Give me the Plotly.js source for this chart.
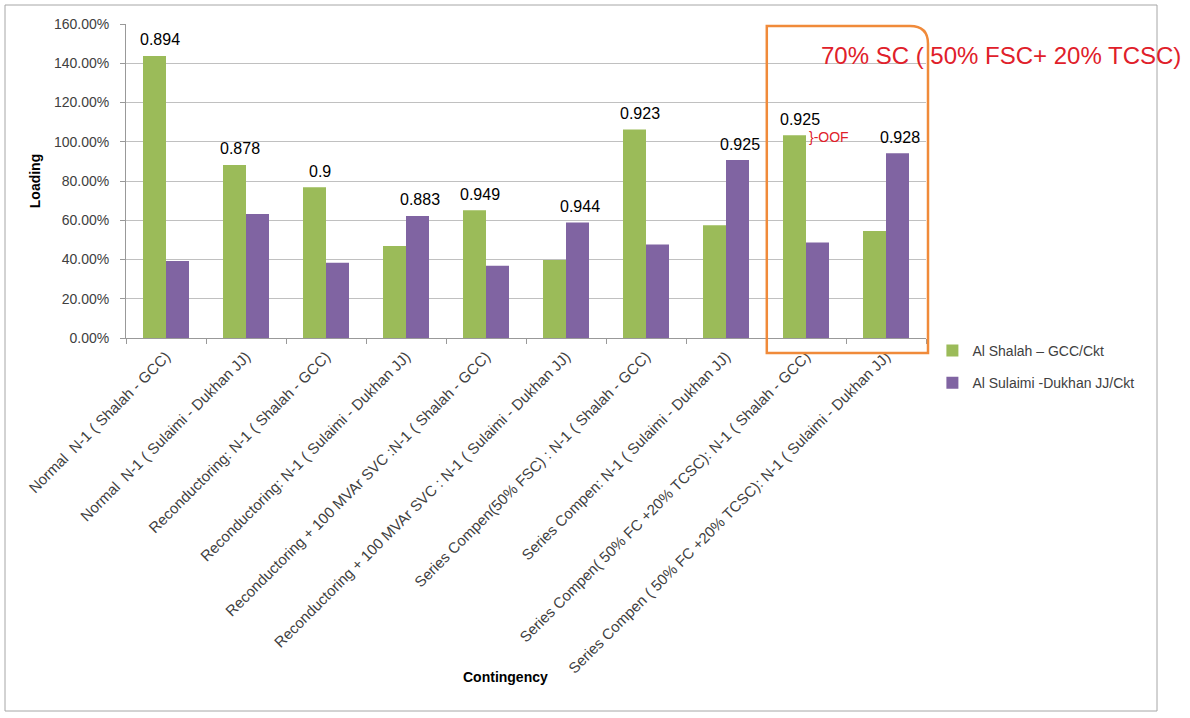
<!DOCTYPE html>
<html>
<head>
<meta charset="utf-8">
<script src="https://cdn.plot.ly/plotly-3.0.1.min.js"></script>
<style>
  html, body { margin: 0; padding: 0; background: #ffffff; }
  #chart { width: 1190px; height: 718px; }
</style>
</head>
<body>
<div id="chart"></div>
<script>
// ---- data ----
const categories = [
  "Normal\u00a0 N-1 ( Shalah - GCC)",
  "Normal\u00a0 N-1 ( Sulaimi - Dukhan JJ)",
  "Reconductoring: N-1 ( Shalah - GCC)",
  "Reconductoring: N-1 ( Sulaimi - Dukhan JJ)",
  "Reconductoring + 100 MVAr SVC :N-1 ( Shalah - GCC)",
  "Reconductoring + 100 MVAr SVC : N-1 ( Sulaimi - Dukhan JJ)",
  "Series Compen(50% FSC) : N-1 ( Shalah - GCC)",
  "Series Compen: N-1 ( Sulaimi - Dukhan JJ)",
  "Series Compen( 50% FC +20% TCSC): N-1 ( Shalah - GCC)",
  "Series Compen ( 50% FC +20% TCSC): N-1 ( Sulaimi - Dukhan JJ)"
];
const shalahGCC     = [1.437, 0.882, 0.768, 0.469, 0.651, 0.397, 1.063, 0.574, 1.033, 0.545];
const sulaimiDukhan = [0.392, 0.632, 0.384, 0.622, 0.368, 0.588, 0.477, 0.907, 0.486, 0.941];
const valueLabels   = ["0.894", "0.878", "0.9", "0.883", "0.949", "0.944", "0.923", "0.925", "0.925", "0.928"];
const seriesNames   = ["Al Shalah \u2013 GCC/Ckt", "Al Sulaimi -Dukhan JJ/Ckt"];
const yTickVals     = [0, 0.2, 0.4, 0.6, 0.8, 1.0, 1.2, 1.4, 1.6];

// ---- styles ----
const FONT = "Liberation Sans, Arial, sans-serif";
const GREEN = "#9BBB59";
const PURPLE = "#8064A2";
const TXT = "#404040";

const traces = [
  { type: "bar", name: seriesNames[0], x: categories, y: shalahGCC,
    marker: { color: GREEN }, legendgroup: "g1", hoverinfo: "skip" },
  { type: "bar", name: seriesNames[1], x: categories, y: sulaimiDukhan,
    marker: { color: PURPLE }, legendgroup: "g2", hoverinfo: "skip" }
];

const annotations = categories.map((c, i) => {
  const greenTaller = shalahGCC[i] >= sulaimiDukhan[i];
  return {
    x: c, y: Math.max(shalahGCC[i], sulaimiDukhan[i]),
    xref: "x", yref: "y",
    text: valueLabels[i], showarrow: false,
    xanchor: "center", yanchor: "middle",
    xshift: greenTaller ? -6 : 14, yshift: 16,
    font: { family: FONT, size: 16, color: "#000000" }
  };
});

annotations.push({
  x: categories[8], y: shalahGCC[8], xref: "x", yref: "y",
  text: "}-OOF", showarrow: false, xanchor: "left", yanchor: "middle",
  xshift: 1, yshift: -2,
  font: { family: FONT, size: 14, color: "#E0202A" }
});
annotations.push({
  x: 1.094, y: 0.901, xref: "paper", yref: "paper",
  text: "70% SC ( 50% FSC+ 20% TCSC)", showarrow: false,
  xanchor: "center", yanchor: "middle",
  font: { family: FONT, size: 24, color: "#E0202A" }
});
annotations.push({
  x: 0.474, y: -1.08, xref: "paper", yref: "paper",
  text: "<b>Contingency</b>", showarrow: false,
  xanchor: "center", yanchor: "middle",
  font: { family: FONT, size: 14, color: "#000000" }
});

const shapes = [
  // outer chart border
  { type: "rect", xref: "paper", yref: "paper",
    x0: -0.15125, x1: 1.28875, y0: -1.1879, y1: 1.0605,
    line: { color: "#a6a6a6", width: 1 }, fillcolor: "rgba(0,0,0,0)", layer: "below" },
  // orange highlight box with rounded top-right corner
  { type: "path", xref: "paper", yref: "paper",
    path: "M 0.801,-0.0478 L 0.801,0.9936 L 0.980,0.9936 Q 1.0025,0.9936 1.0025,0.937 L 1.0025,-0.0478 Z",
    line: { color: "#F08A3A", width: 2.5 }, fillcolor: "rgba(0,0,0,0)", layer: "above" }
];

const layout = {
  width: 1190, height: 718,
  margin: { l: 126, r: 264, t: 24, b: 380, pad: 0 },
  paper_bgcolor: "#ffffff", plot_bgcolor: "#ffffff",
  font: { family: FONT, size: 14, color: TXT },
  barmode: "group", bargap: 0.425, bargroupgap: 0,
  showlegend: true,
  legend: {
    x: 1.008, y: 0.01, xanchor: "left", yanchor: "top",
    traceorder: "grouped", tracegroupgap: 11,
    font: { family: FONT, size: 14, color: TXT },
    bgcolor: "rgba(0,0,0,0)"
  },
  xaxis: {
    type: "category", automargin: false,
    tickangle: -45, ticks: "outside", tickson: "boundaries", ticklen: 5,
    tickcolor: "#999999", showline: true, linecolor: "#999999", linewidth: 1,
    showgrid: false, ticklabelstandoff: 3,
    tickfont: { family: FONT, size: 15, color: TXT }
  },
  yaxis: {
    range: [0, 1.6], tickvals: yTickVals, tickformat: ".2%",
    automargin: false, ticks: "outside", ticklen: 5, tickcolor: "#999999",
    showline: true, linecolor: "#999999", linewidth: 1,
    showgrid: true, gridcolor: "#c0c0c0", gridwidth: 1, zeroline: false,
    ticklabelstandoff: 8,
    tickfont: { family: FONT, size: 14, color: TXT },
    title: { text: "<b>Loading</b>", font: { family: FONT, size: 14, color: "#000000" }, standoff: 10 }
  },
  annotations: annotations,
  shapes: shapes
};

Plotly.newPlot("chart", traces, layout, { displayModeBar: false, staticPlot: true });
</script>
</body>
</html>
